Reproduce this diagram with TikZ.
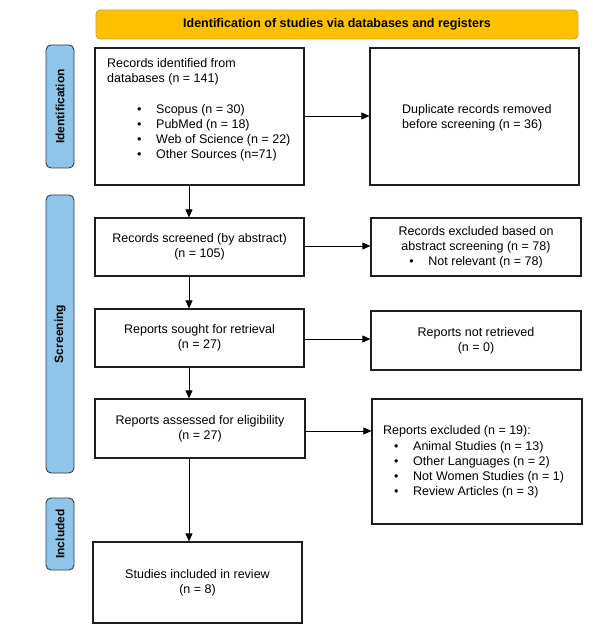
\documentclass[tikz,border=0pt]{standalone}
\usepackage{fontspec}
\setmainfont{Liberation Sans}
\usetikzlibrary{arrows.meta}
\definecolor{hdrfill}{HTML}{FFC000}
\definecolor{hdrdraw}{HTML}{C9A04A}
\definecolor{sidefill}{HTML}{8FC5EA}
\definecolor{sidedraw}{HTML}{3A3A3A}
\definecolor{boxdraw}{HTML}{1E1E1E}
\begin{document}
\begin{tikzpicture}[x=1pt,y=-1pt,
  every node/.style={font=\fontsize{12.5}{15.2}\selectfont},
  box/.style={draw=boxdraw,line width=1.2pt,fill=white,inner sep=0pt,align=center},
  txt/.style={inner sep=0pt,align=left,anchor=west},
  hdr/.style={draw=hdrdraw,fill=hdrfill,line width=0.8pt,rounded corners=4pt,inner sep=0pt,font=\bfseries\fontsize{12.5}{15}\selectfont},
  side/.style={draw=sidedraw,fill=sidefill,line width=0.9pt,rounded corners=5pt,inner sep=0pt,font=\bfseries\fontsize{12}{14}\selectfont,rotate=90},
  arr/.style={draw=black,line width=0.8pt,-{Triangle[length=8pt,width=7pt]}}]
\useasboundingbox (0,0) rectangle (593,636);
% header
\node[hdr,minimum width=482,minimum height=29] (hdr) at (337,24.5) {Identification of studies via databases and registers};
% side labels
\node[side,minimum width=123,minimum height=28] (sid) at (60,106.5) {Identification};
\node[side,minimum width=278,minimum height=28] (sscr) at (60,334) {Screening};
\node[side,minimum width=72,minimum height=28] (sinc) at (60,534) {Included};
% boxes
\node[box,minimum width=209,minimum height=137] (b1) at (199.5,116.5) {};
\node[txt] (b1t) at (107,110) {Records identified from\\databases (n = 141)\\[15.2pt]
\hspace*{29.8pt}\textbullet\hspace{14.8pt}Scopus (n = 30)\\
\hspace*{29.8pt}\textbullet\hspace{14.8pt}PubMed (n = 18)\\
\hspace*{29.8pt}\textbullet\hspace{14.8pt}Web of Science (n = 22)\\
\hspace*{29.8pt}\textbullet\hspace{14.8pt}Other Sources (n=71)};
\node[box,minimum width=209,minimum height=137] (dup) at (474.5,116.5) {};
\node[txt] (dupt) at (402,117.5) {Duplicate records removed\\before screening (n = 36)};
\node[box,minimum width=209,minimum height=58] (scr) at (199.5,247) {Records screened (by abstract)\\(n = 105)};
\node[box,minimum width=210,minimum height=58] (exc1) at (476,247) {Records excluded based on\\abstract screening (n = 78)\\\textbullet\hspace{14.8pt}Not relevant (n = 78)};
\node[box,minimum width=209,minimum height=58] (sought) at (199.5,338) {Reports sought for retrieval\\(n = 27)};
\node[box,minimum width=210,minimum height=59] (notret) at (476,340.5) {Reports not retrieved\\(n = 0)};
\node[box,minimum width=210,minimum height=59] (assess) at (200,428.5) {Reports assessed for eligibility\\(n = 27)};
\node[box,minimum width=210,minimum height=125] (exc2) at (477,461.5) {};
\node[txt] (exc2t) at (383,462) {Reports excluded (n = 19):\\
\hspace*{10.8pt}\textbullet\hspace{14.8pt}Animal Studies (n = 13)\\
\hspace*{10.8pt}\textbullet\hspace{14.8pt}Other Languages (n = 2)\\
\hspace*{10.8pt}\textbullet\hspace{14.8pt}Not Women Studies (n = 1)\\
\hspace*{10.8pt}\textbullet\hspace{14.8pt}Review Articles (n = 3)};
\node[box,minimum width=209,minimum height=81] (incl) at (197.5,582.5) {Studies included in review\\(n = 8)};
% connectors
\coordinate (ax) at (189,0);
\draw[arr] (b1.south -| ax) -- (scr.north -| ax);
\draw[arr] (scr.south -| ax) -- (sought.north -| ax);
\draw[arr] (sought.south -| ax) -- (assess.north -| ax);
\draw[arr] (assess.south -| ax) -- (incl.north -| ax);
\coordinate (y1) at (0,116);
\coordinate (y2) at (0,246);
\coordinate (y3) at (0,339);
\coordinate (y4) at (0,431);
\draw[arr] (b1.east |- y1) -- (dup.west |- y1);
\draw[arr] (scr.east |- y2) -- (exc1.west |- y2);
\draw[arr] (sought.east |- y3) -- (notret.west |- y3);
\draw[arr] (assess.east |- y4) -- (exc2.west |- y4);
\end{tikzpicture}
\end{document}
